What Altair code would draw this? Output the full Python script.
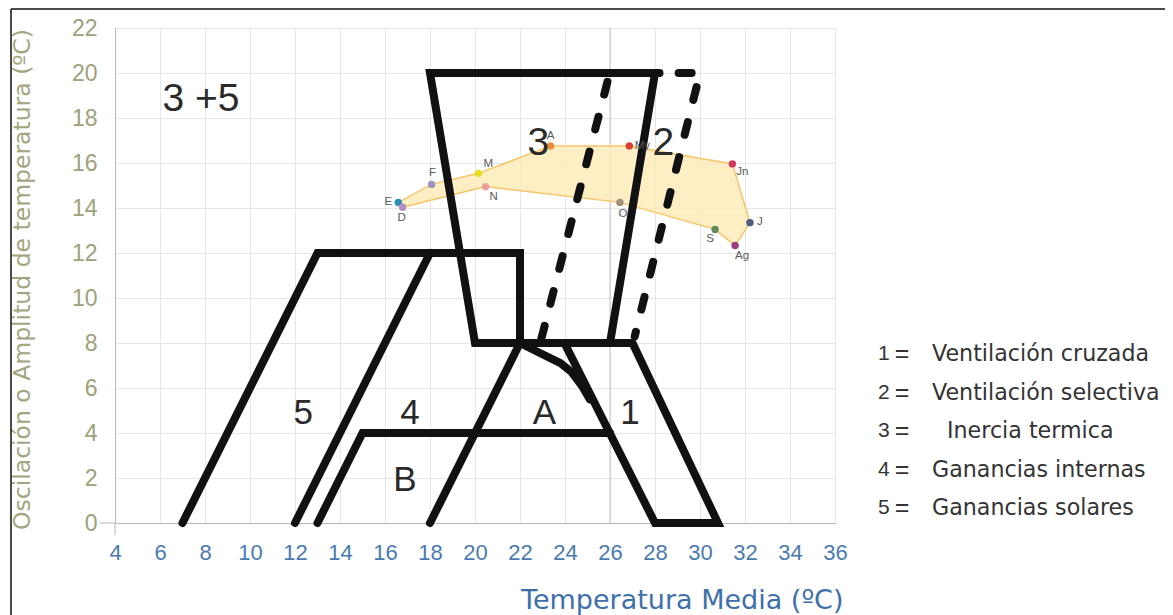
import altair as alt
import pandas as pd

# ---------------- data ----------------
X_TICKS = list(range(4, 37, 2))
Y_TICKS = list(range(0, 23, 2))

months = ["E", "F", "M", "A", "My", "Jn", "J", "Ag", "S", "O", "N", "D"]
month_temp = [16.59, 18.07, 20.15, 23.36, 26.86, 31.44, 32.22, 31.56, 30.67, 26.44, 20.47, 16.78]
month_amp = [14.25, 15.05, 15.54, 16.76, 16.76, 15.96, 13.35, 12.33, 13.05, 14.25, 14.95, 14.03]
month_colors = ["#2a90b5", "#9c94bf", "#e6df22", "#ee8a3a", "#dc3f30", "#d13a60",
                "#4e5c80", "#9b3d7b", "#628a55", "#9e917e", "#e9a09c", "#b58cc0"]

# zone outlines (x = temperatura media, y = amplitud)
zone5_x = [7.0, 13.0, 22.0, 22.0]
zone5_y = [0.0, 12.0, 12.0, 8.0]
zone4_x = [12.0, 18.0]
zone4_y = [0.0, 12.0]
zoneB_x = [13.0, 15.0, 26.0]
zoneB_y = [0.0, 4.0, 4.0]
zoneA_x = [18.0, 22.0]
zoneA_y = [0.0, 8.0]
zone3_x = [28.2, 18.0, 20.0, 27.0, 30.8, 28.0, 24.05]
zone3_y = [20.0, 20.0, 8.0, 8.0, 0.0, 0.0, 7.85]
zone3r_x = [26.0, 28.0]
zone3r_y = [8.0, 20.0]
curve_x = [22.0, 22.75, 23.8, 24.3, 24.75, 25.1]
curve_y = [8.0, 7.62, 7.1, 6.7, 6.1, 5.5]
dash1_x = [22.95, 25.95]
dash1_y = [8.2, 19.85]
dash2_x = [29.05, 30.0, 27.1]
dash2_y = [20.0, 20.0, 8.3]

zone_big_text = ["3 +5", "3", "2"]
zone_big_x = [7.82, 22.81, 28.37]
zone_big_y = [18.84, 16.88, 16.88]
zone_mid_text = ["5", "4", "A", "1", "B"]
zone_mid_x = [12.37, 17.11, 23.08, 26.89, 16.89]
zone_mid_y = [4.9, 4.9, 4.9, 4.9, 1.91]

legend_num = ["1", "2", "3", "4", "5"]
legend_desc = ["Ventilación cruzada", "Ventilación selectiva", "Inercia termica",
               "Ganancias internas", "Ganancias solares"]

# ---------------- layout / style ----------------
W, H = 720, 495
PX = W / 32.0  # pixels per unit
label_dx = [-10, 1, 10, 0, 13, 10, 10, 7, -5, 3, 8, -1]
label_dy = [0, -11, -9, -10, 0, 8, -1, 10, 10, 12, 10, 11]
legend_x0 = 763        # plot px
legend_y0 = 326        # plot px
legend_step = 38.5
desc_shift = [0, 0, 15, 0, 0]


def px_to_t(px):
    return 4 + px / PX


def py_to_a(py):
    return (H - py) / PX


XS = alt.Scale(domain=[4, 36], nice=False, zero=False)
YS = alt.Scale(domain=[0, 22], nice=False, zero=False)

x_axis = alt.Axis(values=X_TICKS, title="Temperatura Media (ºC)", grid=True,
                  ticks=False, tickSize=0, labelPadding=19, labelFontSize=22,
                  labelFlush=False, labelOverlap=False,
                  labelColor="#4a7ab0", labelFont="Liberation Sans",
                  titleColor="#3d70aa", titleFont="DejaVu Sans", titleFontSize=27,
                  titleFontWeight="normal", titleX=728, titleY=77,
                  titleAlign="right", titleBaseline="middle",
                  domainColor="#b8b8b8", gridColor="#e6e6e6")
y_axis = alt.Axis(values=Y_TICKS, title="Oscilación o Amplitud de temperatura (ºC)",
                  grid=True, ticks=False, tickSize=0, labelPadding=18,
                  labelFlush=False, labelOverlap=False,
                  labelFontSize=23, labelColor="#9ea17a", labelFont="Liberation Sans",
                  titleColor="#a2a57e", titleFont="DejaVu Sans", titleFontSize=23.5,
                  titleFontWeight="normal", titleX=-93, titleY=251,
                  titleAlign="center", titleBaseline="middle",
                  domainColor="#b8b8b8", gridColor="#e6e6e6")


def X(f):
    return alt.X(f, type="quantitative", scale=XS, axis=x_axis)


def Y(f):
    return alt.Y(f, type="quantitative", scale=YS, axis=y_axis)


rows = []
segs = [("z5", zone5_x, zone5_y, "solid"), ("z4", zone4_x, zone4_y, "solid"),
        ("zB", zoneB_x, zoneB_y, "solid"), ("zA", zoneA_x, zoneA_y, "solid"),
        ("z3", zone3_x, zone3_y, "solid"), ("z3r", zone3r_x, zone3r_y, "solid"),
        ("cv", curve_x, curve_y, "solid"),
        ("d1", dash1_x, dash1_y, "dash"), ("d2", dash2_x, dash2_y, "dash")]
for name, sx, sy, st in segs:
    for i, (a, b) in enumerate(zip(sx, sy)):
        rows.append({"seg": name, "i": i, "t": a, "a": b, "style": st})
lines_df = pd.DataFrame(rows)

poly_df = pd.DataFrame({"i": list(range(len(months) + 1)),
                        "t": month_temp + [month_temp[0]],
                        "a": month_amp + [month_amp[0]]})
pts_df = pd.DataFrame({"m": months, "t": month_temp, "a": month_amp})
lab_df = pd.DataFrame({"m": months,
                       "t": [t + dx / PX for t, dx in zip(month_temp, label_dx)],
                       "a": [a - dy / PX for a, dy in zip(month_amp, label_dy)]})

grid26 = alt.Chart(pd.DataFrame({"t": [26]})).mark_rule(color="#c4c4c4", strokeWidth=1).encode(
    x=X("t"))

origin_h = alt.Chart(pd.DataFrame({"k": [0]})).mark_rule(color="#b8b8b8").encode(
    x=alt.value(-15), x2=alt.value(0), y=alt.value(H))
origin_v = alt.Chart(pd.DataFrame({"k": [0]})).mark_rule(color="#b8b8b8").encode(
    x=alt.value(0), y=alt.value(H), y2=alt.value(H + 12))
frame_top = alt.Chart(pd.DataFrame({"k": [0]})).mark_rule(color="#111", strokeWidth=1.5).encode(
    x=alt.value(-104), x2=alt.value(1050), y=alt.value(-19))
frame_left = alt.Chart(pd.DataFrame({"k": [0]})).mark_rule(color="#111", strokeWidth=1.5).encode(
    x=alt.value(-104), y=alt.value(-19), y2=alt.value(620))

poly = alt.Chart(poly_df).mark_line(fill="#fdebb9", fillOpacity=0.85, stroke="#f5c66a",
                                    strokeWidth=1.5).encode(x=X("t"), y=Y("a"), order="i:Q")

solid = alt.Chart(lines_df).transform_filter("datum.style == 'solid'").mark_line(
    color="#111111", strokeWidth=8, strokeCap="round", strokeJoin="miter").encode(
    x=X("t"), y=Y("a"), detail="seg:N", order="i:Q")
dashed = alt.Chart(lines_df).transform_filter("datum.style == 'dash'").mark_line(
    color="#111111", strokeWidth=8, strokeCap="round", strokeJoin="miter",
    strokeDash=[13, 23]).encode(x=X("t"), y=Y("a"), detail="seg:N", order="i:Q")

points = alt.Chart(pts_df).mark_circle(size=55, opacity=1).encode(
    x=X("t"), y=Y("a"),
    color=alt.Color("m:N", scale=alt.Scale(domain=months, range=month_colors), legend=None))
plabels = alt.Chart(lab_df).mark_text(fontSize=11.5, color="#5a5a5a", font="Liberation Sans",
                                      align="center", baseline="middle").encode(
    x=X("t"), y=Y("a"), text="m:N")

big = alt.Chart(pd.DataFrame({"s": zone_big_text, "t": zone_big_x, "a": zone_big_y})).mark_text(
    fontSize=39, color="#2a2a2a", font="Liberation Sans", align="center", baseline="middle").encode(
    x=X("t"), y=Y("a"), text="s:N")
mid = alt.Chart(pd.DataFrame({"s": zone_mid_text, "t": zone_mid_x, "a": zone_mid_y})).mark_text(
    fontSize=35, color="#2a2a2a", font="Liberation Sans", align="center", baseline="middle").encode(
    x=X("t"), y=Y("a"), text="s:N")

leg_rows_a = [py_to_a(legend_y0 + legend_step * k) for k in range(5)]
leg_df = pd.DataFrame({"n": legend_num, "d": legend_desc, "eq": ["="] * 5,
                       "a": leg_rows_a,
                       "tn": [px_to_t(legend_x0)] * 5,
                       "te": [px_to_t(legend_x0 + 24)] * 5,
                       "td": [px_to_t(legend_x0 + 54 + desc_shift[k]) for k in range(5)]})
leg_num = alt.Chart(leg_df).mark_text(fontSize=21, color="#333", font="Liberation Sans",
                                      align="left", baseline="middle").encode(
    x=X("tn"), y=Y("a"), text="n:N")
leg_eq = alt.Chart(leg_df).mark_text(fontSize=25, color="#333", font="Liberation Sans",
                                     align="center", baseline="middle").encode(
    x=X("te"), y=Y("a"), text="eq:N")
leg_desc = alt.Chart(leg_df).mark_text(fontSize=22.2, color="#333", font="DejaVu Sans",
                                       align="left", baseline="middle").encode(
    x=X("td"), y=Y("a"), text="d:N")

chart = alt.layer(grid26, origin_h, origin_v, frame_top, frame_left, poly, solid, dashed,
                  points, plabels, big, mid, leg_num, leg_eq, leg_desc).properties(
    width=W, height=H,
    autosize=alt.AutoSizeParams(type="none"),
    padding={"left": 107, "top": 20, "right": 330, "bottom": 92},
).configure_view(stroke=None).configure(background="white")

chart.save("out.html", embed_options={"renderer": "svg", "actions": False})
